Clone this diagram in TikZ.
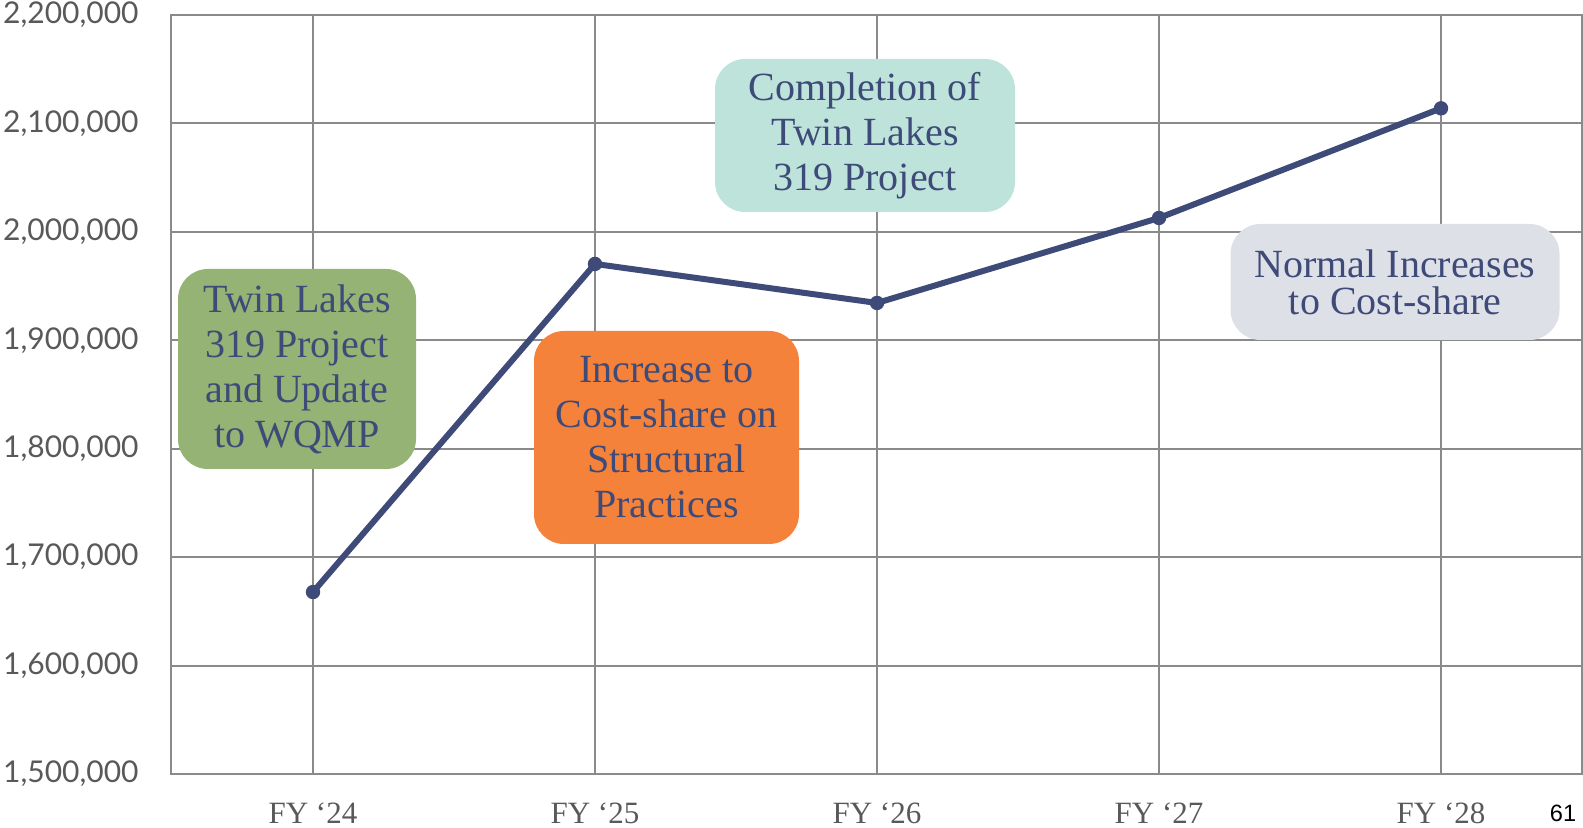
\documentclass[tikz,border=0pt]{standalone}
\usepackage{fontspec}
\setmainfont{Liberation Serif}
\newfontfamily\axisfont{Lato}
\newfontfamily\pagefont{Liberation Sans}
\usetikzlibrary{positioning, calc}

\definecolor{navy}{HTML}{3E4A78}
\definecolor{gridgray}{HTML}{8A8A8A}
\definecolor{labelgray}{HTML}{595959}
\definecolor{boxgreen}{HTML}{94B375}
\definecolor{boxorange}{HTML}{F5823A}
\definecolor{boxteal}{HTML}{BDE3DA}
\definecolor{boxgray}{HTML}{DEE0E8}

\tikzset{
    gridline/.style={gridgray, line width=1pt},
    dataline/.style={navy, line width=3pt, line join=round},
    note/.style={rounded corners=15pt, inner sep=0pt, align=center, text=navy,
        font=\fontsize{20}{22.5}\selectfont},
    ylabel/.style={anchor=east, inner sep=0pt, text=labelgray, font=\axisfont\fontsize{15}{17}\selectfont},
    xlabel/.style={text=labelgray, font=\fontsize{15.5}{17}\selectfont}
}

\begin{document}
\begin{tikzpicture}[x=0.5pt, y=0.5pt]
        \def\xlines{5}
        \def\ylines{7}
        \def\xstep{282}
        \def\ystep{108.43}
        \def\xfirst{142}

        \useasboundingbox (-171,-54) rectangle (1412,774);

        % draw vertical lines
        \foreach \x in {1,...,\xlines}
        {
            \draw[gridline] (\xfirst + \x * \xstep - \xstep, 0) -- (\xfirst + \x * \xstep - \xstep, \ylines * \ystep);
        }

        % draw horizontal lines
        \foreach \y in {0,...,\ylines}
        {
            \draw[gridline] (0, \y * \ystep) -- (1411, \y * \ystep);
            \pgfmathtruncatemacro\ma{int((15+\y)/10)}
            \pgfmathtruncatemacro\mb{mod(15+\y,10)}
            \node[ylabel] (y\y) at (-32, \y * \ystep) {\ma,\mb 00,000};
        }

        % border
        \draw[gridline] (0, 0) rectangle (1411, \ylines * \ystep);

        % years and values
        \foreach \yr/\val [count=\i from 0] in {24/1.678,25/4.704,26/4.344,27/5.128,28/6.139}
        {
            \coordinate (p\yr) at (\xfirst + \i * \xstep, \val * \ystep);
            \node[xlabel] (fy\yr) at (\xfirst + \i * \xstep, -39) {FY ‘\yr};
        }

        \draw[dataline] (p24) -- (p25) -- (p26) -- (p27) -- (p28);
        \foreach \yr in {24,...,28}
        {
            \fill[navy] (p\yr) circle (3.6pt);
        }

        % notes
        \node[note, fill=boxgreen, minimum width=119pt, minimum height=100pt] (plan) at (126, 405)
            {Twin Lakes\\319 Project\\and Update\\to WQMP};
        \node[note, fill=boxorange, minimum width=132.5pt, minimum height=106.5pt] (costshare) at (495.5, 336.5)
            {Increase to\\Cost-share on\\Structural\\Practices};
        \node[note, fill=boxteal, minimum width=150pt, minimum height=76.5pt] (completion) at (694, 638.5)
            {Completion of\\Twin Lakes\\319 Project};
        \node[note, fill=boxgray, minimum width=164.5pt, minimum height=58pt,
            font=\fontsize{20}{18.5}\selectfont] (normal) at (1224, 492)
            {Normal Increases\\to Cost-share};

        \node[font=\pagefont\fontsize{11.8}{13}\selectfont] (page) at (1392, -39) {61};
\end{tikzpicture}
\end{document}
